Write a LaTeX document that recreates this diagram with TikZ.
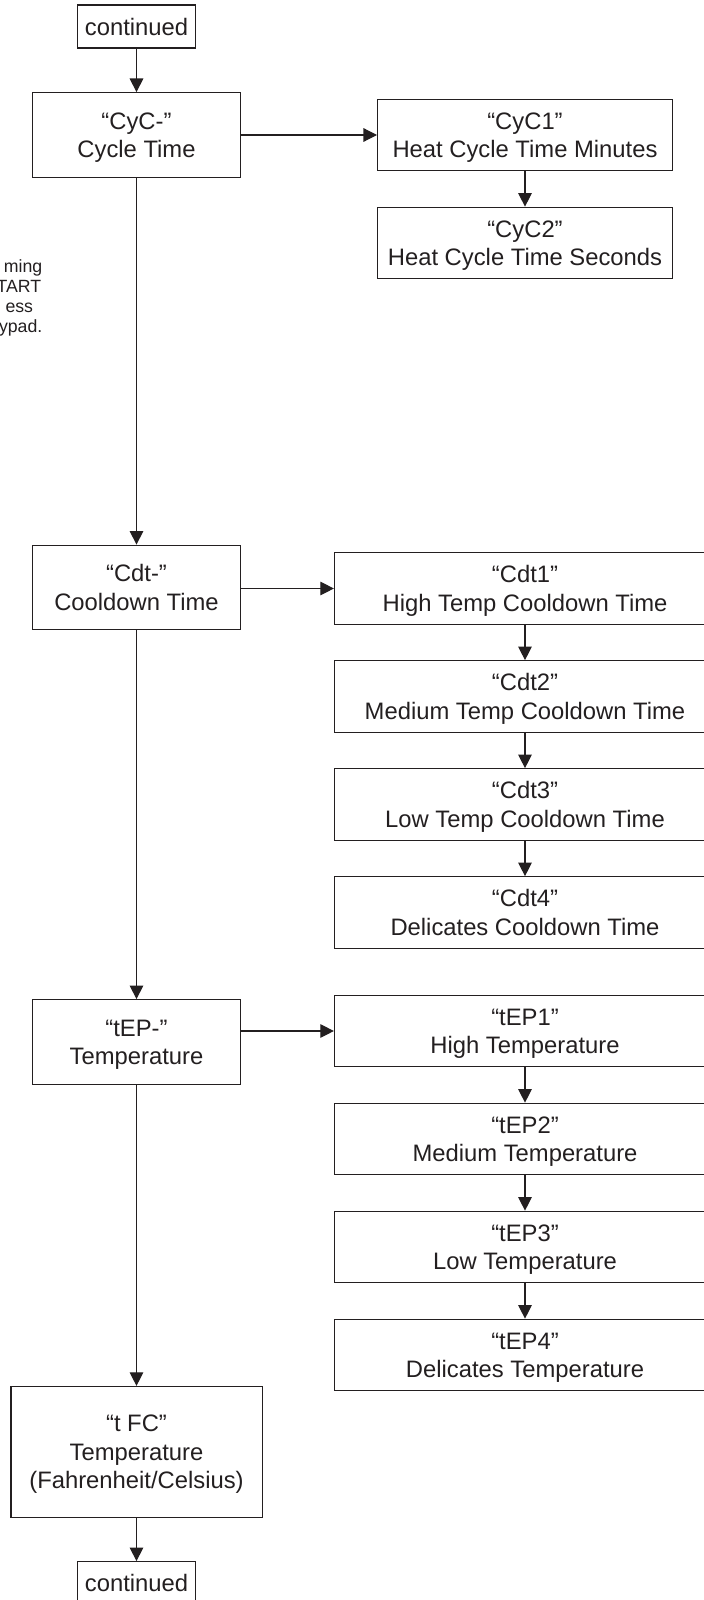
\documentclass[tikz,border=0pt]{standalone}
\usepackage{fontspec}
\setmainfont{Liberation Sans}
\usetikzlibrary{positioning,arrows.meta}
\definecolor{inkgray}{RGB}{35,31,32}

\begin{document}
\begin{tikzpicture}[x=0.5pt, y=-0.5pt, -{Triangle[length=6.8pt,width=6.8pt]}, node distance = 54pt and 0pt, on grid, line width=0.6pt, color=inkgray,
                contbox/.style ={rectangle, draw, minimum width=59.25pt, minimum height=21.5pt, inner sep=0pt, text depth=0pt,
                font=\fontsize{11.9}{14.2}\selectfont},
                menubox/.style ={contbox, align=center, minimum width=104pt, minimum height=42.3pt},
                subbox/.style ={contbox, align=center, minimum width=190.5pt, minimum height=35.75pt},
                cycbox/.style ={subbox, minimum width=147.4pt},
                tfcbox/.style ={contbox, align=center, minimum width=125.6pt, minimum height=65.5pt},
                cutnote/.style ={anchor=base east, inner sep=0pt, font=\fontsize{8.85}{10.2}\selectfont}]

            \useasboundingbox (0,0) rectangle (704,1600);

            %left column
            \node[contbox] (top) at (136.5, 26.5) {continued};
            \node[menubox] (cyc) at (136.5, 135) {“CyC-”\\Cycle Time};
            \node[menubox] (cdt) at (136.5, 587.5) {“Cdt-”\\Cooldown Time};
            \node[menubox] (tep) at (136.5, 1042) {“tEP-”\\Temperature};
            \node[tfcbox] (tfc) at (136.5, 1452) {“t FC”\\Temperature\\(Fahrenheit/Celsius)};
            \node[contbox] (bottom) at (136.5, 1583.2) {continued};

            %sub menus
            \node[cycbox] (cyc1) at (525, 135) {“CyC1”\\Heat Cycle Time Minutes};
            \node[cycbox, below = of cyc1] (cyc2) {“CyC2”\\Heat Cycle Time Seconds};

            \node[subbox] (cdt1) at (525, 588.5) {“Cdt1”\\High Temp Cooldown Time};
            \node[subbox, below = of cdt1] (cdt2) {“Cdt2”\\Medium Temp Cooldown Time};
            \node[subbox, below = of cdt2] (cdt3) {“Cdt3”\\Low Temp Cooldown Time};
            \node[subbox, below = of cdt3] (cdt4) {“Cdt4”\\Delicates Cooldown Time};

            \node[subbox] (tep1) at (525, 1031) {“tEP1”\\High Temperature};
            \node[subbox, below = of tep1] (tep2) {“tEP2”\\Medium Temperature};
            \node[subbox, below = of tep2] (tep3) {“tEP3”\\Low Temperature};
            \node[subbox, below = of tep3] (tep4) {“tEP4”\\Delicates Temperature};

            %cut off note at the left edge
            \node[cutnote] (note1) at (42.9, 272) {ming};
            \node[cutnote] (note2) at (41.8, 292.3) {TART};
            \node[cutnote] (note3) at (33.7, 312.6) {ess};
            \node[cutnote] (note4) at (42.9, 332.9) {ypad.};

            \path (top) edge (cyc);
            \path (cyc) edge (cdt);
            \path (cdt) edge (tep);
            \path (tep) edge (tfc);
            \path (tfc) edge (bottom);

            \path (cyc) edge (cyc1);
            \path (cdt1.west -| cdt.east) edge (cdt1.west);
            \path (tep1.west -| tep.east) edge (tep1.west);

            \foreach \a/\b in {cyc1/cyc2, cdt1/cdt2, cdt2/cdt3, cdt3/cdt4, tep1/tep2, tep2/tep3, tep3/tep4}
                \path (\a) edge (\b);
    \end{tikzpicture}
\end{document}
